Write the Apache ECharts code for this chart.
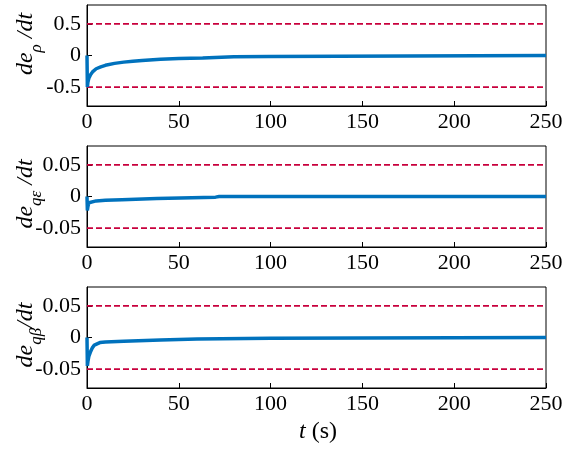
<!DOCTYPE html>
<html>
<head>
<meta charset="utf-8">
<script src="https://cdn.jsdelivr.net/npm/echarts@6/dist/echarts.min.js"></script>
<style>html,body{margin:0;padding:0;background:#fff}#c{width:567px;height:449px}</style>
</head>
<body>
<div id="c"></div>
<script>
// time axis ticks
var xTicks = [0, 50, 100, 150, 200, 250];
// subplot 1: de_rho/dt
var t1 = [0, 0.2, 0.5, 1, 2, 3, 5, 7.5, 10, 15, 20, 25, 30, 40, 50, 63, 64, 80, 99, 100, 250];
var v1 = [0, -0.5, -0.42, -0.36, -0.3, -0.26, -0.21, -0.18, -0.155, -0.125, -0.105, -0.09, -0.08, -0.06, -0.047, -0.038, -0.022, -0.018, -0.014, 0, 0];
var lim1 = [0.5, -0.5];
var yTicks1 = [-0.5, 0, 0.5];
var yLabels1 = ['-0.5', '0', '0.5'];
// subplot 2: de_qe/dt
var t2 = [0, 0.2, 0.5, 1, 2, 5, 10, 19, 20, 38, 39, 70, 72, 250];
var v2 = [0, -0.022, -0.016, -0.01, -0.008, -0.007, -0.006, -0.005, -0.004, -0.003, -0.0015, -0.001, 0, 0];
var lim2 = [0.05, -0.05];
var yTicks2 = [-0.05, 0, 0.05];
var yLabels2 = ['-0.05', '0', '0.05'];
// subplot 3: de_qb/dt
var t3 = [0, 0.2, 0.5, 1, 2, 3, 4, 5, 7, 10, 20, 21, 40, 41, 60, 61, 100, 101, 250];
var v3 = [0, -0.045, -0.038, -0.03, -0.022, -0.016, -0.012, -0.01, -0.008, -0.007, -0.006, -0.005, -0.004, -0.003, -0.0025, -0.0015, -0.001, 0, 0];
var lim3 = [0.05, -0.05];
var yTicks3 = [-0.05, 0, 0.05];
var yLabels3 = ['-0.05', '0', '0.05'];
var yRanges = [[-0.8, 0.8], [-0.08, 0.08], [-0.08, 0.08]];

var FONT = 'Liberation Serif';
var BLUE = '#0072BD';
var RED = '#c8003c';
var chart = echarts.init(document.getElementById('c'));

function zip(t, v) { return t.map(function (x, i) { return [x, v[i]]; }); }

var grids = [
  {left: 87, top: 5, width: 459, height: 101},
  {left: 87, top: 146, width: 459, height: 101},
  {left: 87, top: 287, width: 459, height: 101}
];
var ticksList = [yTicks1, yTicks2, yTicks3];
var labelsList = [yLabels1, yLabels2, yLabels3];
var limsList = [lim1, lim2, lim3];
var dataList = [zip(t1, v1), zip(t2, v2), zip(t3, v3)];

var xAxes = [], yAxes = [], series = [];
for (var i = 0; i < 3; i++) {
  grids[i].show = true;
  grids[i].borderColor = '#000';
  grids[i].borderWidth = 1;
  grids[i].containLabel = false;
  xAxes.push({
    type: 'value', gridIndex: i, min: 0, max: 250, interval: 50,
    axisLine: {show: true, onZero: false, lineStyle: {color: '#000', width: 1}},
    axisTick: {show: true, inside: true, length: 5, lineStyle: {color: '#000'}},
    axisLabel: {show: true, margin: 5, color: '#000', fontFamily: FONT, fontSize: 22},
    splitLine: {show: false}
  });
  (function (labels, ticks) {
    yAxes.push({
      type: 'value', gridIndex: i, min: yRanges[i][0], max: yRanges[i][1],
      axisLine: {show: true, onZero: false, lineStyle: {color: '#000', width: 1}},
      axisTick: {show: true, inside: true, length: 5, customValues: ticks, lineStyle: {color: '#000'}},
      axisLabel: {show: true, margin: 6, color: '#000', fontFamily: FONT, fontSize: 22,
        customValues: ticks,
        formatter: function (v) {
          for (var k = 0; k < ticks.length; k++) if (Math.abs(ticks[k] - v) < 1e-9) return labels[k];
          return '';
        }},
      splitLine: {show: false}
    });
  })(labelsList[i], ticksList[i]);
  limsList[i].forEach(function (L) {
    series.push({
      type: 'line', xAxisIndex: i, yAxisIndex: i, data: [[0, L], [250, L]],
      showSymbol: false, silent: true,
      lineStyle: {color: RED, width: 1.8, type: [6, 3]}
    });
  });
  series.push({
    type: 'line', xAxisIndex: i, yAxisIndex: i, data: dataList[i],
    showSymbol: false, lineStyle: {color: BLUE, width: 3.5}, z: 5
  });
}

function ylabel(x, y, sub, sep) {
  return {
    type: 'text', x: x, y: y, rotation: Math.PI / 2,
    style: {
      text: '{a|de}{b|' + sub + '}{a|' + sep + '/dt}',
      align: 'center', verticalAlign: 'middle',
      rich: {
        a: {fontFamily: FONT, fontStyle: 'italic', fontSize: 24, lineHeight: 24, verticalAlign: 'top', fill: '#000', color: '#000'},
        b: {fontFamily: FONT, fontStyle: 'italic', fontSize: 17, lineHeight: 17, verticalAlign: 'top', padding: [14, 0, 0, 0], fill: '#000', color: '#000'}
      }
    }
  };
}

chart.setOption({
  animation: false,
  backgroundColor: '#fff',
  grid: grids,
  xAxis: xAxes,
  yAxis: yAxes,
  series: series,
  graphic: [
    ylabel(26, 44, 'ρ', ' '),
    ylabel(26, 194, 'qε', ' '),
    ylabel(26, 335, 'qβ', ''),
    {
      type: 'text', x: 318, y: 432,
      style: {
        text: '{i|t} (s)', align: 'center', verticalAlign: 'middle',
        rich: {
          i: {fontFamily: FONT, fontStyle: 'italic', fontSize: 24, fill: '#000', color: '#000'}
        },
        fontFamily: FONT, fontSize: 24, fill: '#000'
      }
    }
  ]
});
</script>
</body>
</html>
